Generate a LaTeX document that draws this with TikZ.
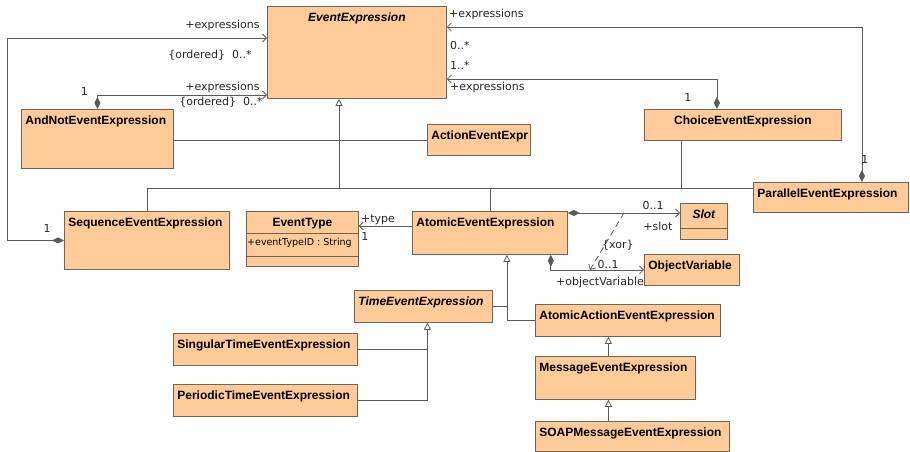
\documentclass[tikz,border=0pt]{standalone}
\usepackage{fontspec}
\setmainfont{DejaVu Sans}
\newfontfamily\clsfont{Liberation Sans}
\usetikzlibrary{arrows.meta, calc}

\definecolor{clsfill}{RGB}{255,204,153}
\definecolor{clsborder}{RGB}{115,100,85}
\definecolor{wire}{RGB}{90,90,90}
\hyphenpenalty=10000
\exhyphenpenalty=10000

\begin{document}
\begin{tikzpicture}[
    x=1pt, y=-1pt,
    every node/.style={font=\fontsize{11}{13}\selectfont},
    cls/.style={rectangle, draw=clsborder, fill=clsfill, line width=0.8pt, anchor=north west,
        inner xsep=4pt, inner ysep=3pt, text height=12pt, align=left,
        font=\clsfont\bfseries\fontsize{12}{14}\selectfont},
    abstract/.style={cls, font=\clsfont\bfseries\itshape\fontsize{12}{14}\selectfont},
    attr/.style={font=\fontsize{9.5}{11}\selectfont, inner sep=1pt, anchor=west},
    role/.style={inner sep=1pt, text=black!85},
    wireline/.style={draw=wire, line width=0.8pt},
    gen/.style={wireline, -{Triangle[open, length=7pt, width=7pt]}},
    assoc/.style={wireline, -{Straight Barb[length=4pt, width=8pt]}},
    comp/.style={wireline, {Diamond[length=12pt, width=6pt]}-{Straight Barb[length=4pt, width=8pt]}},
    xor/.style={wireline, dash pattern=on 6pt off 4pt, -{Straight Barb[length=4pt, width=8pt]}}
]
\path[use as bounding box, fill=white] (0,0) rectangle (910,452);

% classes
\node[abstract, align=center, text width=171pt, text depth=74pt] (ee) at (267,6) {EventExpression};
\node[cls, text width=144pt, text depth=41pt] (andnot) at (21,109) {AndNotEventExpression};
\node[cls, text width=95pt, text depth=13pt] (action) at (427,124) {ActionEventExpr};
\node[cls, align=center, text width=189pt, text depth=13pt] (choice) at (644,109) {ChoiceEventExpression};
\node[cls, text width=147pt, text depth=12pt] (parallel) at (753,182) {ParallelEventExpression};
\node[cls, text width=157pt, text depth=40pt] (sequence) at (64,211) {SequenceEventExpression};
\node[cls, align=center, text width=104pt, text depth=37pt] (eventtype) at (246,211) {EventType};
\node[cls, text width=147pt, text depth=25pt] (atomic) at (412,211) {AtomicEventExpression};
\node[abstract, align=center, text width=39pt, text depth=18pt] (slot) at (680,203) {Slot};
\node[cls, text width=87pt, text depth=13pt] (objvar) at (644,254) {ObjectVariable};
\node[abstract, text width=130pt, text depth=14pt] (timeev) at (354,290) {TimeEventExpression};
\node[cls, text width=176pt, text depth=14pt] (singular) at (173,333) {SingularTimeEventExpression};
\node[cls, text width=176pt, text depth=14pt] (periodic) at (173,384) {PeriodicTimeEventExpression};
\node[cls, text width=177pt, text depth=14pt] (atomicaction) at (535,304) {AtomicActionEventExpression};
\node[cls, text width=152pt, text depth=25pt] (message) at (535,356) {MessageEventExpression};
\node[cls, text width=186pt, text depth=12pt] (soap) at (535,421) {SOAPMessageEventExpression};

% compartments
\draw[clsborder, line width=0.8pt] ([yshift=-22pt]eventtype.north west) -- ([yshift=-22pt]eventtype.north east);
\draw[clsborder, line width=0.8pt] ([yshift=-45pt]eventtype.north west) -- ([yshift=-45pt]eventtype.north east);
\node[attr] (typeid) at ([yshift=-32pt]eventtype.north west) {+eventTypeID : String};
\draw[clsborder, line width=0.8pt] ([yshift=-25pt]slot.north west) -- ([yshift=-25pt]slot.north east);

% subclasses of EventExpression
\coordinate (bus) at (339,188);
\draw[gen] (bus) -- (bus |- ee.south);
\draw[wireline] (sequence.north) |- (parallel.west |- bus);
\coordinate (choicefoot) at ([xshift=-62pt]choice.south);
\draw[wireline] (choicefoot) -- (choicefoot |- bus);
\draw[wireline] (atomic.north) -- (atomic.north |- bus);
\draw[wireline] (andnot.east |- action.west) -- (action.west);

% composite expressions
\draw[comp] (sequence.west) -- node[role, at start, xshift=-17pt, yshift=12pt] {1} ++(-57,0)
    |- ([yshift=-32pt]ee.north west)
    node[role, at end, anchor=east, xshift=-6pt, yshift=13pt] {+expressions}
    node[role, at end, anchor=east, xshift=-14pt, yshift=-17pt] {\{ordered\}\ \ 0..*};
\draw[comp] (andnot.north) |- node[role, at start, xshift=-13pt, yshift=18pt] {1}
    ([yshift=-89pt]ee.north west)
    node[role, at end, anchor=east, xshift=-6pt, yshift=8pt] {+expressions}
    node[role, at end, anchor=east, xshift=-3pt, yshift=-7pt] {\{ordered\}\ \ 0..*};
\draw[comp] ([xshift=-26pt]choice.north) |- node[role, at start, xshift=-29pt, yshift=12pt] {1}
    ([yshift=-73pt]ee.north east)
    node[role, at end, anchor=west, xshift=2pt, yshift=14pt] {1..*}
    node[role, at end, anchor=west, xshift=2pt, yshift=-8pt] {+expressions};
\draw[comp] ([xshift=31pt]parallel.north) |- node[role, at start, xshift=3pt, yshift=23pt] {1}
    ([yshift=-21pt]ee.north east)
    node[role, at end, anchor=west, xshift=1pt, yshift=13pt] {+expressions}
    node[role, at end, anchor=west, xshift=2pt, yshift=-18pt] {0..*};

% atomic expression and its parts
\coordinate (typelink) at ([yshift=7pt]atomic.west);
\draw[assoc] (typelink) -- (typelink -| eventtype.east)
    node[role, at end, anchor=west, xshift=1pt, yshift=6pt] {+type}
    node[role, at end, xshift=6pt, yshift=-11pt] {1};
\coordinate (slotlink) at ([yshift=-2pt]atomic.north east);
\draw[comp] (slotlink) -- (slotlink -| slot.west) coordinate[pos=0.5] (xortop)
    node[role, at end, xshift=-27pt, yshift=8pt] {0..1}
    node[role, at end, xshift=-22pt, yshift=-13pt] {+slot};
\coordinate (objlink) at ([xshift=-17pt]atomic.south east);
\draw[comp] (objlink) |- (objvar.west) coordinate[pos=0.71] (xorfoot)
    node[role, at end, xshift=-36pt, yshift=5pt] {0..1}
    node[role, at end, xshift=-44pt, yshift=-13pt] {+objectVariable};
\draw[xor] (xortop) -- (xorfoot) node[role, midway, xshift=11pt, yshift=-4pt] {\{xor\}};

% subclasses of AtomicEventExpression
\coordinate (atomicfoot) at ([xshift=17pt]atomic.south);
\draw[gen] (atomicaction.west) -| (atomicfoot);
\draw[wireline] (timeev.east) -- (timeev.east -| atomicfoot);
\coordinate (timefoot) at ([xshift=4pt]timeev.south);
\draw[gen] (periodic.east) -| (timefoot);
\draw[wireline] (singular.east) -- (singular.east -| timefoot);
\coordinate (msgtop) at ([xshift=-7pt]message.north);
\draw[gen] (msgtop) -- (msgtop |- atomicaction.south);
\coordinate (soaptop) at ([xshift=-24pt]soap.north);
\draw[gen] (soaptop) -- (soaptop |- message.south);

\end{tikzpicture}
\end{document}
